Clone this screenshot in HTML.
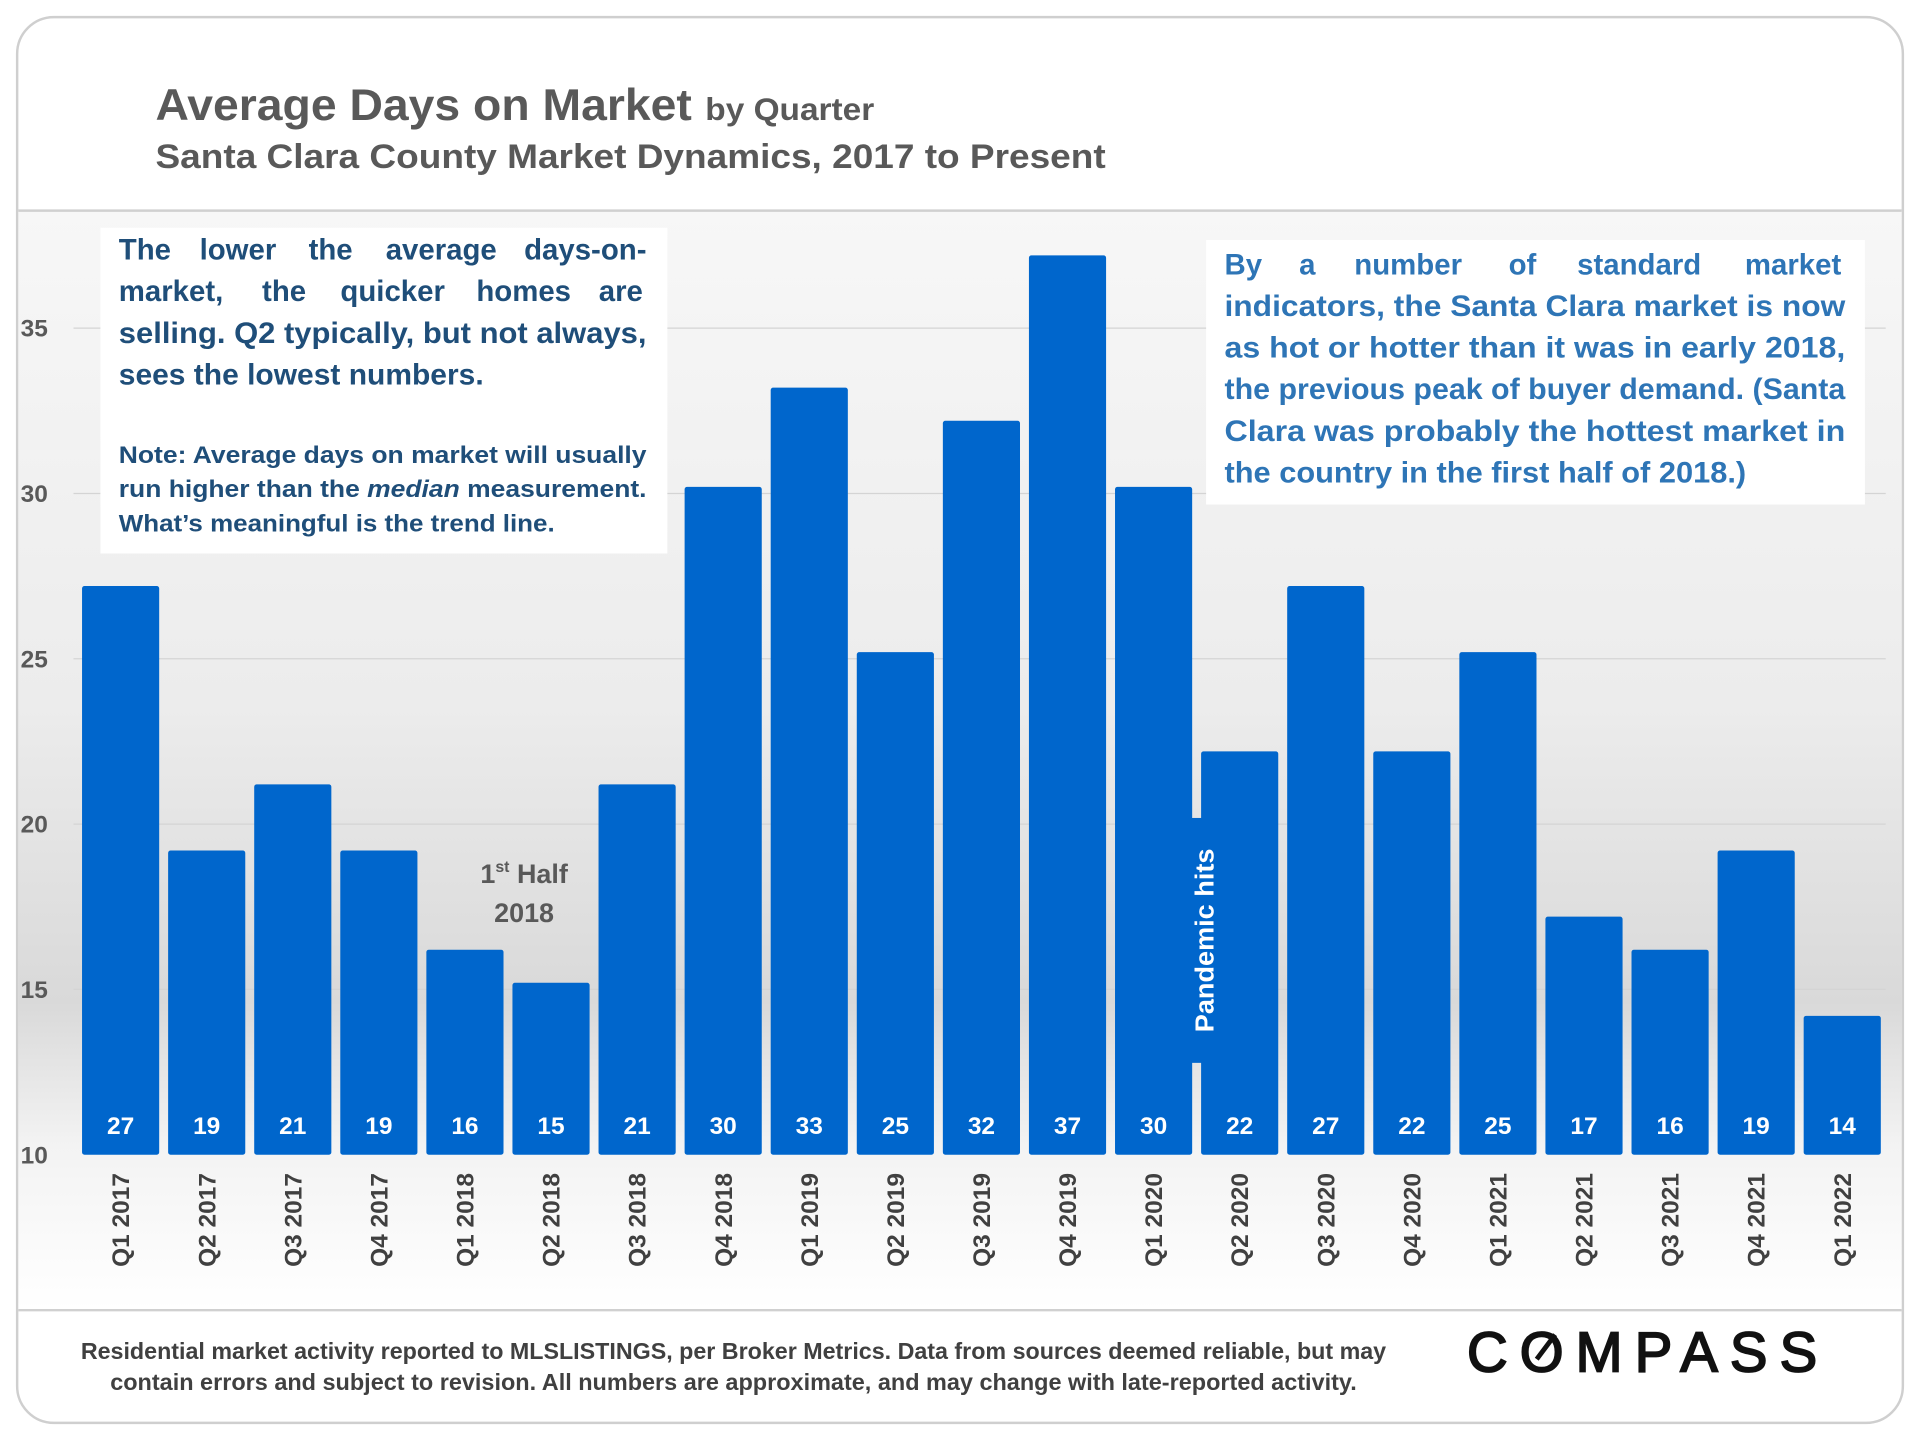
<!DOCTYPE html>
<html><head><meta charset="utf-8"><style>
html,body{margin:0;padding:0;background:#fff;}
svg{display:block;font-family:"Liberation Sans",sans-serif;}
</style></head><body>
<svg id="chart" width="1920" height="1440" viewBox="0 0 1568 1176" xmlns="http://www.w3.org/2000/svg">
<defs>
<linearGradient id="bg" x1="0" y1="0" x2="0" y2="1">
<stop offset="0" stop-color="#f7f7f7"/>
<stop offset="0.45" stop-color="#ececec"/>
<stop offset="0.72" stop-color="#d9d9d9"/>
<stop offset="0.85" stop-color="#f3f3f3"/>
<stop offset="1" stop-color="#ffffff"/>
</linearGradient>
</defs>
<rect x="14" y="14" width="1540" height="1148" rx="30" fill="#fff" stroke="#cfcfcf" stroke-width="2"/>
<rect x="15" y="172" width="1538" height="898" fill="url(#bg)"/>
<line x1="15" y1="172" x2="1553" y2="172" stroke="#d0d0d0" stroke-width="2"/>
<line x1="15" y1="1070" x2="1553" y2="1070" stroke="#d0d0d0" stroke-width="2"/>
<text x="127" y="98" font-size="36" font-weight="bold" fill="#595959" textLength="438" lengthAdjust="spacingAndGlyphs">Average Days on Market</text>
<text x="576" y="98" font-size="26" font-weight="bold" fill="#595959" textLength="138" lengthAdjust="spacingAndGlyphs">by Quarter</text>
<text x="127" y="137" font-size="28" font-weight="bold" fill="#595959" textLength="776" lengthAdjust="spacingAndGlyphs">Santa Clara County Market Dynamics, 2017 to Present</text>
<g id="grid"></g>
<g id="bars"></g>
<g id="ylabels"></g>
<g id="xlabels"></g>
<rect x="82" y="186" width="463" height="266" fill="#fff"/>
<g font-size="24" font-weight="bold" fill="#1f4e79">
<text y="212"><tspan x="97">The</tspan><tspan x="163">lower</tspan><tspan x="252">the</tspan><tspan x="315">average</tspan><tspan x="428">days-on-</tspan></text>
<text y="246"><tspan x="97">market,</tspan><tspan x="214">the</tspan><tspan x="278">quicker</tspan><tspan x="389">homes</tspan><tspan x="489">are</tspan></text>
<text x="97" y="280" textLength="431" lengthAdjust="spacingAndGlyphs">selling. Q2 typically, but not always,</text>
<text x="97" y="314" textLength="298" lengthAdjust="spacingAndGlyphs">sees the lowest numbers.</text>
</g>
<g font-size="20" font-weight="bold" fill="#1f4e79">
<text x="97" y="378" textLength="431" lengthAdjust="spacingAndGlyphs">Note: Average days on market will usually</text>
<text x="97" y="406" textLength="431" lengthAdjust="spacingAndGlyphs">run higher than the <tspan font-style="italic">median</tspan> measurement.</text>
<text x="97" y="434" textLength="356" lengthAdjust="spacingAndGlyphs">What’s meaningful is the trend line.</text>
</g>
<rect x="985" y="196" width="538" height="216" fill="#fff"/>
<g font-size="24" font-weight="bold" fill="#2e75b6">
<text y="224"><tspan x="1000">By</tspan><tspan x="1061">a</tspan><tspan x="1106">number</tspan><tspan x="1232">of</tspan><tspan x="1288">standard</tspan><tspan x="1425">market</tspan></text>
<text x="1000" y="258" textLength="507" lengthAdjust="spacingAndGlyphs">indicators, the Santa Clara market is now</text>
<text x="1000" y="292" textLength="507" lengthAdjust="spacingAndGlyphs">as hot or hotter than it was in early 2018,</text>
<text x="1000" y="326" textLength="507" lengthAdjust="spacingAndGlyphs">the previous peak of buyer demand. (Santa</text>
<text x="1000" y="360" textLength="507" lengthAdjust="spacingAndGlyphs">Clara was probably the hottest market in</text>
<text x="1000" y="394" textLength="426" lengthAdjust="spacingAndGlyphs">the country in the first half of 2018.)</text>
</g>
<g font-size="22" font-weight="bold" fill="#595959" text-anchor="middle">
<text x="428" y="721">1<tspan font-size="13" dy="-9">st</tspan><tspan dy="9"> Half</tspan></text>
<text x="428" y="753">2018</text>
</g>
<rect x="972" y="668" width="12" height="200" fill="#0066cc"/>
<text transform="translate(991,768) rotate(-90)" text-anchor="middle" font-size="21" font-weight="bold" fill="#fff" textLength="150" lengthAdjust="spacingAndGlyphs">Pandemic hits</text>
<g font-size="19" font-weight="bold" fill="#404040" text-anchor="middle">
<text x="599" y="1110" textLength="1066" lengthAdjust="spacingAndGlyphs">Residential market activity reported to MLSLISTINGS, per Broker Metrics. Data from sources deemed reliable, but may</text>
<text x="599" y="1135" textLength="1018" lengthAdjust="spacingAndGlyphs">contain errors and subject to revision. All numbers are approximate, and may change with late-reported activity.</text>
</g>
<g>
<text x="1198" y="1120" font-size="46" fill="#111" stroke="#111" stroke-width="1.5" textLength="286" lengthAdjust="spacing">COMPASS</text>
<line x1="1255" y1="1110" x2="1270" y2="1090" stroke="#111" stroke-width="4"/>
</g>
<script>
const categories=["Q1 2017","Q2 2017","Q3 2017","Q4 2017","Q1 2018","Q2 2018","Q3 2018","Q4 2018","Q1 2019","Q2 2019","Q3 2019","Q4 2019","Q1 2020","Q2 2020","Q3 2020","Q4 2020","Q1 2021","Q2 2021","Q3 2021","Q4 2021","Q1 2022"];
const values=[27.2,19.2,21.2,19.2,16.2,15.2,21.2,30.2,33.2,25.2,32.2,37.2,30.2,22.2,27.2,22.2,25.2,17.2,16.2,19.2,14.2];
const yTicks=[10,15,20,25,30,35];
const NS="http://www.w3.org/2000/svg";
function y(v){return 943-(v-10)*27;}
function x(i){return 67+i*70.3;}
const bw=63;
function mk(t,a,p){const e=document.createElementNS(NS,t);for(const k in a)e.setAttribute(k,a[k]);p.appendChild(e);return e;}
const grid=document.getElementById('grid'),yl=document.getElementById('ylabels'),bars=document.getElementById('bars'),xl=document.getElementById('xlabels');
yTicks.forEach(t=>{
 if(t>10){const g=mk('line',{x1:60,x2:1540,y1:y(t),y2:y(t),stroke:'#d4d4d4','stroke-width':1},grid);
 
 }
 const l=mk('text',{x:28,y:y(t)+7,'text-anchor':'middle','font-size':20,'font-weight':'bold',fill:'#595959'},yl);
 l.textContent=t;
 
 
});
values.forEach((v,i)=>{
 const r=mk('rect',{x:x(i),y:y(v),width:bw,height:y(10)-y(v),fill:'#0066cc',rx:2},bars);
 
 
 const t=mk('text',{x:x(i)+bw/2,y:926,'text-anchor':'middle','font-size':20,'font-weight':'bold',fill:'#fff'},bars);
 t.textContent=Math.round(v);
 
 
 const c=mk('text',{transform:'translate('+(x(i)+bw/2+7)+',958) rotate(-90)','text-anchor':'end','font-size':20,'font-weight':'bold',fill:'#404040'},xl);
 c.textContent=categories[i];
 
 
});
</script>
</svg>
</body></html>
